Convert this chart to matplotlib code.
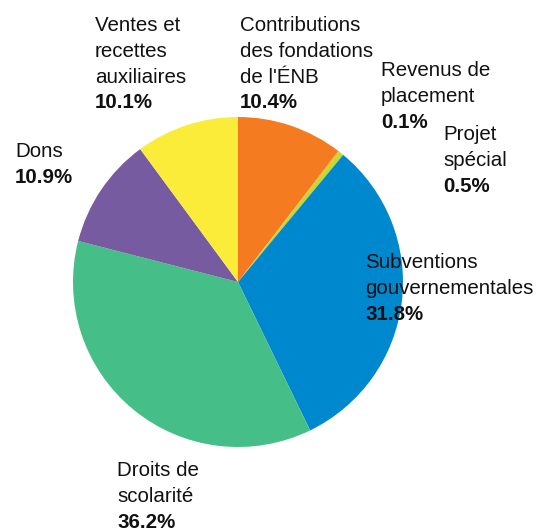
import matplotlib.pyplot as plt

# data, clockwise from 12 o'clock
names = ["Contributions\ndes fondations\nde l'ÉNB", "Revenus de\nplacement",
         "Projet\nspécial", "Subventions\ngouvernementales",
         "Droits de\nscolarité", "Dons", "Ventes et\nrecettes\nauxiliaires"]
values = [10.4, 0.1, 0.5, 31.8, 36.2, 10.9, 10.1]
colors = ['#F47B20', '#F4A01E', '#C5D92D', '#0088CE', '#45BF87', '#775BA0', '#FCEC3A']

# label anchor: left x and first baseline y, in pixels from top-left
labelPos = [(240, 31), (381, 76), (443, 140), (365, 268),
            (117, 476), (15, 157), (95, 31)]

W, H = 541, 529
cx, cy, r = 238, 282, 165
lineStep = 25.8
fontSize = 14.8

plt.rcParams['font.family'] = ['Liberation Sans', 'DejaVu Sans']

fig = plt.figure(figsize=(W/100, H/100), dpi=100)
ax = fig.add_axes([(cx-r)/W, (H-cy-r)/H, 2*r/W, 2*r/H])
ax.pie(values, colors=colors, startangle=90, counterclock=False,
       wedgeprops=dict(linewidth=0))
ax.set_aspect('equal')
ax.set_xlim(-1, 1)
ax.set_ylim(-1, 1)
ax.axis('off')

for name, value, (x, y) in zip(names, values, labelPos):
    lines = name.split('\n')
    for i, line in enumerate(lines):
        fig.text(x/W, 1-(y+i*lineStep)/H, line, fontsize=fontSize,
                 ha='left', va='baseline', color='#111111')
    fig.text(x/W, 1-(y+len(lines)*lineStep)/H, '%.1f%%' % value,
             fontsize=fontSize, fontweight='bold', ha='left',
             va='baseline', color='#111111')

fig.savefig('out.png', dpi=100)
